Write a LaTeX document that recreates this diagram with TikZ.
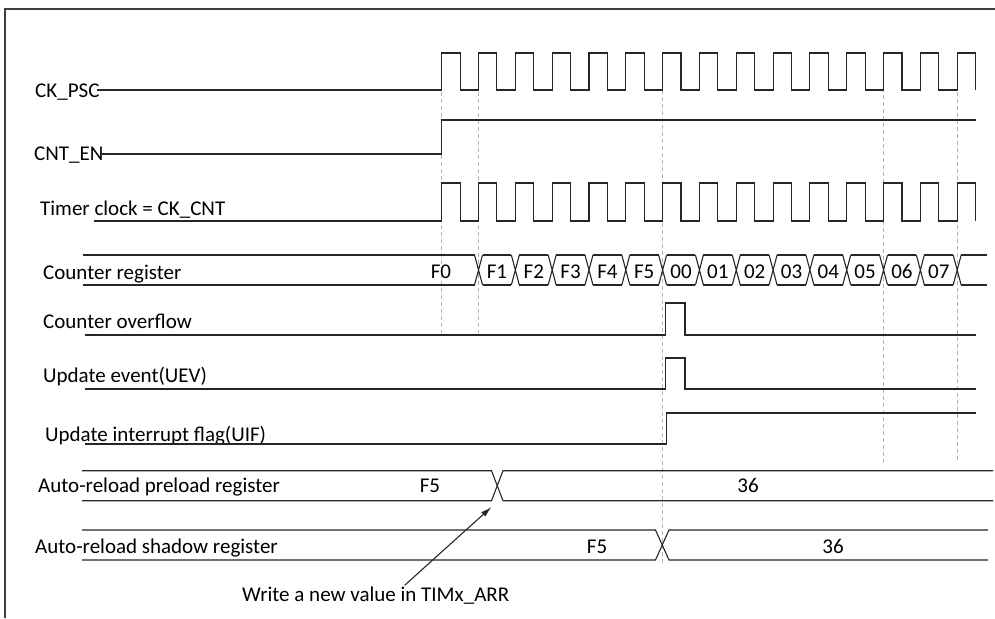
\documentclass[tikz,border=0pt]{standalone}
\usepackage{fontspec}
\setmainfont{Carlito}
\usetikzlibrary{arrows.meta}

\begin{document}
\begin{tikzpicture}[x=1pt, y=-1pt, font=\fontsize{21}{24}\selectfont,
    sig/.style={line width=1.1pt, draw=black!85},
    guide/.style={draw=black!30, line width=0.8pt, dash pattern=on 4pt off 3pt},
    lbl/.style={anchor=base west, inner sep=0pt},
    val/.style={anchor=base, inner sep=0pt}]
    \def\tz{441.7}
    \def\per{36.82}
    \useasboundingbox (0,0) rectangle (995,618);
    % frame
    \draw[line width=1.1pt, draw=black!75] (5,618) -- (5,9) -- (995,9);
    % guides
    \draw[guide] (\tz,92) -- (\tz,333);
    \draw[guide] ({\tz+\per},92) -- ({\tz+\per},333);
    \draw[guide] ({\tz+6*\per},55) -- ({\tz+6*\per},563);
    \draw[guide] ({\tz+12*\per},67) -- ({\tz+12*\per},463);
    \draw[guide] ({\tz+14*\per},92) -- ({\tz+14*\per},463);
    % labels
    \node[lbl] (psc) at (35,97.5) {CK\_PSC};
    \node[lbl] (cnten) at (34,160) {CNT\_EN};
    \node[lbl] (tclk) at (40,215.5) {Timer clock = CK\_CNT};
    \node[lbl] (cntreg) at (43,279) {Counter register};
    \node[lbl] (ovf) at (43,328) {Counter overflow};
    \node[lbl] (uev) at (43,382.5) {Update event(UEV)};
    \node[lbl] (uif) at (45,441) {Update interrupt flag(UIF)};
    \node[lbl] (arrpre) at (38,492) {Auto-reload preload register};
    \node[lbl] (arrsh) at (35,553.5) {Auto-reload shadow register};
    % CK_PSC
    \draw[sig] (97,90) -- (\tz,90) foreach \k in {0,...,14}{
        -- ({\tz+\k*\per},90) -- ({\tz+\k*\per},53)
        -- ({\tz+(\k+0.5)*\per},53) -- ({\tz+(\k+0.5)*\per},90)};
    % CNT_EN
    \draw[sig] (100,154) -- (\tz,154) -- (\tz,120) -- (976,120);
    % CK_CNT
    \draw[sig] (94,221) -- (\tz,221) foreach \k in {0,...,14}{
        -- ({\tz+\k*\per},221) -- ({\tz+\k*\per},183)
        -- ({\tz+(\k+0.5)*\per},183) -- ({\tz+(\k+0.5)*\per},221)};
    % counter register
    \draw[sig] (83,255) -- ({\tz+\per-4},255);
    \draw[sig] (83,285) -- ({\tz+\per-4},285);
    \foreach \i in {1,...,14}{
        \pgfmathsetmacro\xa{\tz+\i*\per}
        \draw[sig] ({\xa-4},255) -- ({\xa+4},285) ({\xa-4},285) -- ({\xa+4},255);
    }
    \foreach \i in {1,...,13}{
        \pgfmathsetmacro\xa{\tz+\i*\per}
        \draw[sig] ({\xa+4},255) -- ({\xa+\per-4},255) ({\xa+4},285) -- ({\xa+\per-4},285);
    }
    \draw[sig] ({\tz+14*\per+4},255) -- (987,255) ({\tz+14*\per+4},285) -- (987,285);
    \node[val] (cnt0) at (441,278) {F0};
    \foreach \v [count=\i] in {F1,F2,F3,F4,F5,00,01,02,03,04,05,06,07}{
        \node[val] (cnt\i) at ({\tz+(\i+0.5)*\per},278) {\v};
    }
    % overflow and update event
    \draw[sig] (85,335) -- (665.5,335) -- (665.5,303) -- (685,303) -- (685,335) -- (976,335);
    \draw[sig] (85,389) -- (665.5,389) -- (665.5,358) -- (685,358) -- (685,389) -- (976,389);
    % UIF
    \draw[sig] (85,444) -- (666.5,444) -- (666.5,413) -- (976,413);
    % auto-reload preload
    \draw[sig] (82,470.7) -- (491.5,470.7) -- (503,500.7) -- (993,500.7);
    \draw[sig] (82,500.7) -- (491.5,500.7) -- (503,470.7) -- (993,470.7);
    \node[val] (pre0) at (430,492) {F5};
    \node[val] (pre1) at (748,492) {36};
    % auto-reload shadow
    \draw[sig] (82,530) -- (655.5,530) -- (669,560) -- (988,560);
    \draw[sig] (82,560) -- (655.5,560) -- (669,530) -- (988,530);
    \node[val] (sh0) at (597,553.5) {F5};
    \node[val] (sh1) at (833,553.5) {36};
    % write note
    \node[lbl] (note) at (242,601) {Write a new value in TIMx\_ARR};
    \coordinate (wr) at (491.5,507);
    \draw[sig, -{Latex[length=11pt, width=6pt]}] ([xshift=29pt, yshift=1pt]note.north) -- (wr);
\end{tikzpicture}
\end{document}
